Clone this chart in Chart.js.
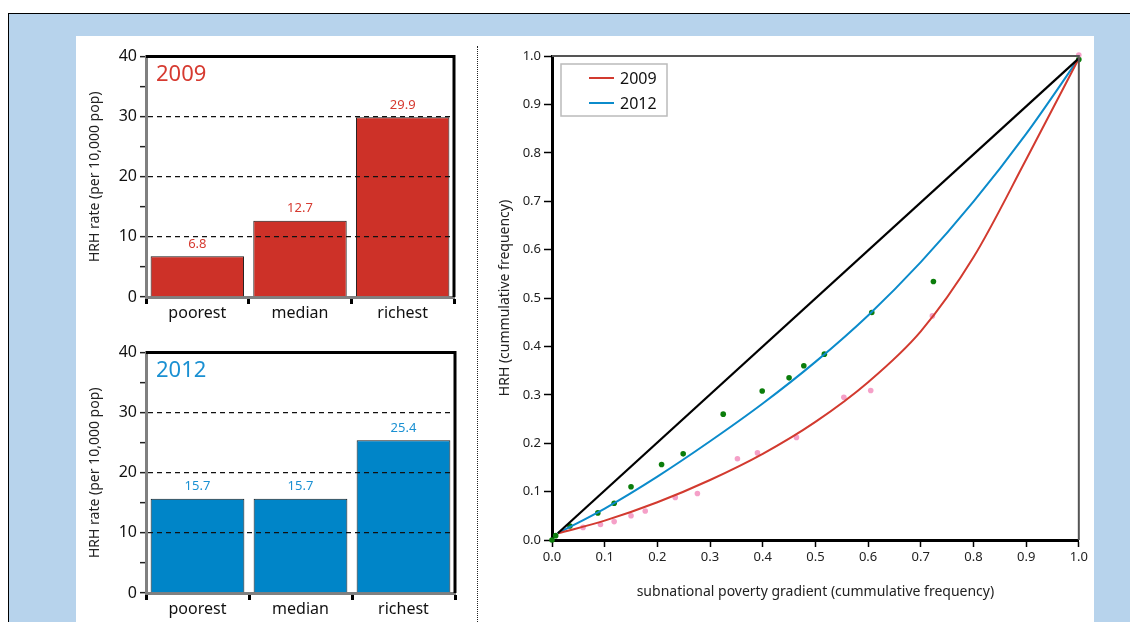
<!DOCTYPE html>
<html lang="en">
<head>
<meta charset="UTF-8">
<title>HRH distribution 2009 / 2012</title>
<script src="https://cdn.jsdelivr.net/npm/chart.js@4"></script>
<style>
    body { margin: 0; background: #fff; overflow: hidden; width: 1130px; height: 622px; position: relative; font-family: "Noto Sans", sans-serif; }
    #frame { position: absolute; left: 8px; top: 13px; width: 1200px; height: 700px; background: #b7d3ec; border-top: 1.5px solid #000; border-left: 1.5px solid #000; }
    #panel { position: absolute; left: 76px; top: 36px; width: 1018px; height: 700px; background: #fff; }
    #divider { position: absolute; left: 477px; top: 46px; height: 700px; border-left: 1.5px dotted #222; }
    canvas { position: absolute; }
</style>
</head>
<body>
<div id="frame"></div>
<div id="panel"></div>
<div id="divider"></div>
<canvas id="bars2009" width="385" height="283" style="left:80px; top:44px;"></canvas>
<canvas id="bars2012" width="386" height="283" style="left:80px; top:340px;"></canvas>
<canvas id="lorenz" width="605" height="570" style="left:485px; top:40px;"></canvas>

<script>
    // bar panels
    const barCategories = ['poorest', 'median', 'richest'];
    const hrh2009 = [6.8, 12.7, 29.9];
    const hrh2012 = [15.7, 15.7, 25.4];

    // concentration curves, [x, y]
    const equalityLine = [[0.011, 0.014], [1.0, 0.995]];
    const curve2009 = [[0.012, 0.014], [0.1, 0.040], [0.2, 0.078], [0.3, 0.124], [0.4, 0.178],
        [0.5, 0.244], [0.6, 0.326], [0.7, 0.431], [0.8, 0.584], [0.9, 0.786], [1.0, 0.995]];
    const curve2012 = [[0.011, 0.014], [0.1, 0.065], [0.2, 0.131], [0.3, 0.204], [0.4, 0.282],
        [0.5, 0.368], [0.6, 0.464], [0.7, 0.574], [0.8, 0.699], [0.9, 0.839], [1.0, 0.995]];
    const points2009 = [[0.059, 0.026], [0.092, 0.032], [0.118, 0.038], [0.150, 0.050], [0.177, 0.060],
        [0.234, 0.088], [0.276, 0.096], [0.352, 0.168], [0.390, 0.180], [0.464, 0.212],
        [0.554, 0.295], [0.605, 0.309], [0.722, 0.463], [1.0, 1.002]];
    const points2012 = [[0.0, 0.0], [0.007, 0.009], [0.034, 0.029], [0.087, 0.056], [0.118, 0.076],
        [0.150, 0.110], [0.208, 0.156], [0.249, 0.178], [0.325, 0.260], [0.399, 0.308],
        [0.450, 0.335], [0.478, 0.360], [0.517, 0.384], [0.607, 0.470], [0.724, 0.534], [1.0, 0.993]];
    const axisTicks = [0, 0.1, 0.2, 0.3, 0.4, 0.5, 0.6, 0.7, 0.8, 0.9, 1.0];

    const FONT = '"Noto Sans", sans-serif';
    const toXY = arr => arr.map(p => ({ x: p[0], y: p[1] }));

    Chart.defaults.font.family = FONT;
    Chart.defaults.animation = false;
    Chart.defaults.plugins.tooltip.enabled = false;

    // value labels, year tag and top/right frame of a bar panel
    const barDecor = {
        id: 'barDecor',
        afterDatasetsDraw(chart, args, opts) {
            const ctx = chart.ctx, a = chart.chartArea;
            const meta = chart.getDatasetMeta(0);
            const values = chart.data.datasets[0].data;
            ctx.save();
            ctx.fillStyle = opts.color;
            ctx.font = '13px ' + FONT;
            ctx.textAlign = 'center';
            ctx.textBaseline = 'middle';
            meta.data.forEach((bar, i) => {
                ctx.fillText(values[i].toFixed(1), bar.x, bar.y - 12);
            });
            ctx.font = '22px ' + FONT;
            ctx.textAlign = 'left';
            ctx.fillText(opts.year, a.left + 10, a.top + 18);
            ctx.restore();
        },
        afterDraw(chart) {
            const ctx = chart.ctx, a = chart.chartArea;
            ctx.save();
            ctx.strokeStyle = '#000';
            ctx.lineWidth = 3;
            ctx.beginPath();
            ctx.moveTo(a.left, a.top);
            ctx.lineTo(a.right, a.top);
            ctx.lineTo(a.right, a.bottom);
            ctx.stroke();
            ctx.restore();
        }
    };

    function makeBars(id, values, barColor, textColor, year) {
        new Chart(document.getElementById(id), {
            type: 'bar',
            data: {
                labels: barCategories,
                datasets: [{
                    data: values,
                    backgroundColor: barColor,
                    borderColor: '#1a1a1a',
                    borderWidth: 1,
                    barPercentage: 0.91,
                    categoryPercentage: 1.0
                }]
            },
            options: {
                responsive: false,
                layout: { padding: { top: 11, right: 11, left: 0, bottom: 0 } },
                plugins: {
                    legend: { display: false },
                    barDecor: { color: textColor, year: year }
                },
                scales: {
                    x: {
                        afterFit: s => { s.height = 30; },
                        grid: { offset: true, drawOnChartArea: false, tickLength: 7, tickWidth: 3, tickColor: '#000' },
                        border: { color: '#808080', width: 3 },
                        ticks: { font: { size: 16 }, color: '#111', padding: 0 }
                    },
                    y: {
                        min: 0, max: 40,
                        afterFit: s => { s.width = 66; },
                        ticks: {
                            stepSize: 5, autoSkip: false, padding: 3,
                            font: { size: 16 }, color: '#111',
                            callback: v => (v % 10 === 0 ? v : '')
                        },
                        grid: {
                            z: 1,
                            lineWidth: 1.3,
                            color: c => (c.tick && [10, 20, 30].includes(c.tick.value)) ? '#111' : 'rgba(0,0,0,0)',
                            tickColor: '#222', tickLength: 6, tickWidth: 1.5
                        },
                        border: { z: 1, color: '#808080', width: 3, dash: [5, 4] },
                        title: { display: true, text: 'HRH rate (per 10,000 pop)', font: { size: 14 }, color: '#222', padding: { top: 7, bottom: 0 } }
                    }
                }
            },
            plugins: [barDecor]
        });
    }

    makeBars('bars2009', hrh2009, '#cd3128', '#d63a30', '2009');
    makeBars('bars2012', hrh2012, '#0085c8', '#1a90d2', '2012');

    // legend box and grey top/right frame of the curve panel
    const curveDecor = {
        id: 'curveDecor',
        afterDraw(chart) {
            const ctx = chart.ctx, a = chart.chartArea;
            ctx.save();
            ctx.strokeStyle = '#555';
            ctx.lineWidth = 2;
            ctx.beginPath();
            ctx.moveTo(a.left, a.top);
            ctx.lineTo(a.right, a.top);
            ctx.lineTo(a.right, a.bottom);
            ctx.stroke();

            const bx = a.left + 9, by = a.top + 8;
            ctx.fillStyle = '#fff';
            ctx.fillRect(bx, by, 106, 52);
            ctx.strokeStyle = '#bbb';
            ctx.lineWidth = 1.5;
            ctx.strokeRect(bx, by, 106, 52);
            const entries = chart.data.datasets.filter(d => d.inLegend);
            entries.forEach((d, i) => {
                const y = by + 14 + i * 25;
                ctx.strokeStyle = d.borderColor;
                ctx.lineWidth = 2;
                ctx.beginPath();
                ctx.moveTo(bx + 28, y);
                ctx.lineTo(bx + 53, y);
                ctx.stroke();
                ctx.fillStyle = '#111';
                ctx.font = '16px ' + FONT;
                ctx.textBaseline = 'middle';
                ctx.fillText(d.label, bx + 59, y + 1);
            });
            ctx.restore();
        }
    };

    new Chart(document.getElementById('lorenz'), {
        type: 'scatter',
        data: {
            datasets: [
                { label: 'equality', data: toXY(equalityLine), showLine: true, borderColor: '#000', borderWidth: 2.2, pointRadius: 0, clip: false },
                { label: '2009', inLegend: true, data: toXY(curve2009), showLine: true, borderColor: '#d23a2f', borderWidth: 2, pointRadius: 0, cubicInterpolationMode: 'monotone', clip: false },
                { label: '2012', inLegend: true, data: toXY(curve2012), showLine: true, borderColor: '#0b8bcb', borderWidth: 2, pointRadius: 0, cubicInterpolationMode: 'monotone', clip: false },
                { label: '2009 regions', data: toXY(points2009), pointRadius: 2.8, pointStyle: 'circle', backgroundColor: '#f5a0c8', borderWidth: 0, clip: false },
                { label: '2012 regions', data: toXY(points2012), pointRadius: 2.8, pointStyle: 'circle', backgroundColor: '#0b7d0b', borderWidth: 0, clip: false }
            ]
        },
        options: {
            responsive: false,
            layout: { padding: { top: 16, right: 11, left: 0, bottom: 0 } },
            plugins: { legend: { display: false } },
            scales: {
                x: {
                    type: 'linear', min: 0, max: 1,
                    afterFit: s => { s.height = 70; },
                    afterBuildTicks: s => { s.ticks = axisTicks.map(v => ({ value: v })); },
                    ticks: { font: { size: 13 }, color: '#222', padding: 2, callback: v => v.toFixed(1) },
                    grid: { drawOnChartArea: false, tickLength: 7, tickWidth: 1.5, tickColor: '#000' },
                    border: { color: '#000', width: 3 },
                    title: { display: true, text: 'subnational poverty gradient (cummulative frequency)', font: { size: 14 }, color: '#222', padding: { top: 0, bottom: 10 } }
                },
                y: {
                    type: 'linear', min: 0, max: 1,
                    afterFit: s => { s.width = 67; },
                    afterBuildTicks: s => { s.ticks = axisTicks.map(v => ({ value: v })); },
                    ticks: { font: { size: 13 }, color: '#222', padding: 3, callback: v => v.toFixed(1) },
                    grid: { drawOnChartArea: false, tickLength: 8, tickWidth: 1.5, tickColor: '#000' },
                    border: { color: '#000', width: 3 },
                    title: { display: true, text: 'HRH (cummulative frequency)', font: { size: 14 }, color: '#222', padding: { top: 12, bottom: 0 } }
                }
            }
        },
        plugins: [curveDecor]
    });
</script>
</body>
</html>
